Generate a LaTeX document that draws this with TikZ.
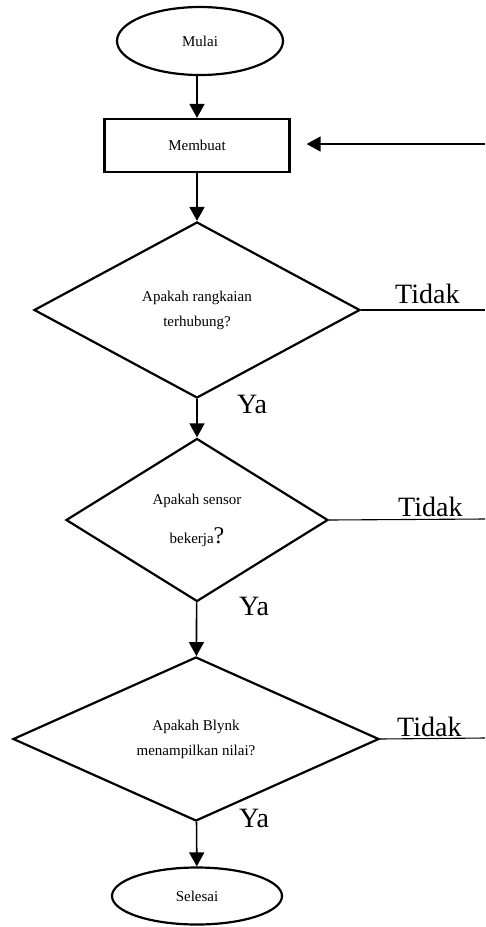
\documentclass[tikz,border=0pt]{standalone}
\usepackage{fontspec}
\setmainfont{Liberation Serif}
\usetikzlibrary{shapes.geometric,arrows.meta}
\begin{document}
\begin{tikzpicture}[x=1pt,y=-1pt,
   terminal/.style={draw,ellipse,line width=2.2pt,inner sep=0pt,
      font=\fontsize{15}{17}\selectfont},
   proses/.style={draw,rectangle,line width=2.2pt,inner sep=0pt,
      font=\fontsize{15}{17}\selectfont},
   keputusan/.style={draw,diamond,line width=2.2pt,inner sep=0pt,
      align=center,font=\fontsize{15}{25}\selectfont},
   jawab/.style={inner sep=0pt,font=\fontsize{28}{30}\selectfont},
   panah/.style={line width=1.6pt,-{Triangle[width=15pt,length=14pt]}},
   garis/.style={line width=1.1pt}]
   \useasboundingbox (0,0) rectangle (485,927);

   \node[terminal,minimum width=166pt,minimum height=68pt] (mulai) at (200,41) {Mulai};
   \node[proses,minimum width=185pt,minimum height=53pt] (membuat) at (197,145.5) {Membuat};
   \node[keputusan,minimum width=326pt,minimum height=176pt] (rangkaian) at (197,310)
      {Apakah rangkaian\\terhubung?};
   \node[keputusan,minimum width=262pt,minimum height=163pt] (sensor) at (197,520)
      {Apakah sensor\\[14pt]bekerja{\fontsize{24}{24}\selectfont ?}};
   \node[keputusan,minimum width=366pt,minimum height=164pt] (blynk) at (196,739)
      {Apakah Blynk\\menampilkan nilai?};
   \node[terminal,minimum width=170pt,minimum height=57pt] (selesai) at (197,896) {Selesai};

   \coordinate (balik) at (485,144);
   \coordinate (tidakA) at (485,310);
   \coordinate (tidakB) at (485,519);
   \coordinate (tidakC) at (485,738);

   \draw[panah] (membuat.north |- mulai.south) -- (membuat);
   \draw[panah] (membuat) -- (rangkaian);
   \draw[panah] (rangkaian) -- (sensor);
   \draw[panah] (sensor) -- (blynk);
   \draw[panah] (blynk) -- (selesai);
   \draw[panah,shorten >=16pt] (balik) -- (membuat.east |- balik);

   \draw[garis] (rangkaian.east) -- (tidakA);
   \draw[garis] (sensor.east) -- (tidakB);
   \draw[garis] (blynk.east) -- (tidakC);

   \node[jawab,anchor=base west] (labelTidakA) at (395,303) {Tidak};
   \node[jawab,anchor=base west] (labelTidakB) at (398,516) {Tidak};
   \node[jawab,anchor=base west] (labelTidakC) at (397,736) {Tidak};
   \node[jawab,anchor=base west] (labelYaA) at (237,413) {Ya};
   \node[jawab,anchor=base west] (labelYaB) at (239,615) {Ya};
   \node[jawab,anchor=base west] (labelYaC) at (239,827) {Ya};

 \end{tikzpicture}
\end{document}
